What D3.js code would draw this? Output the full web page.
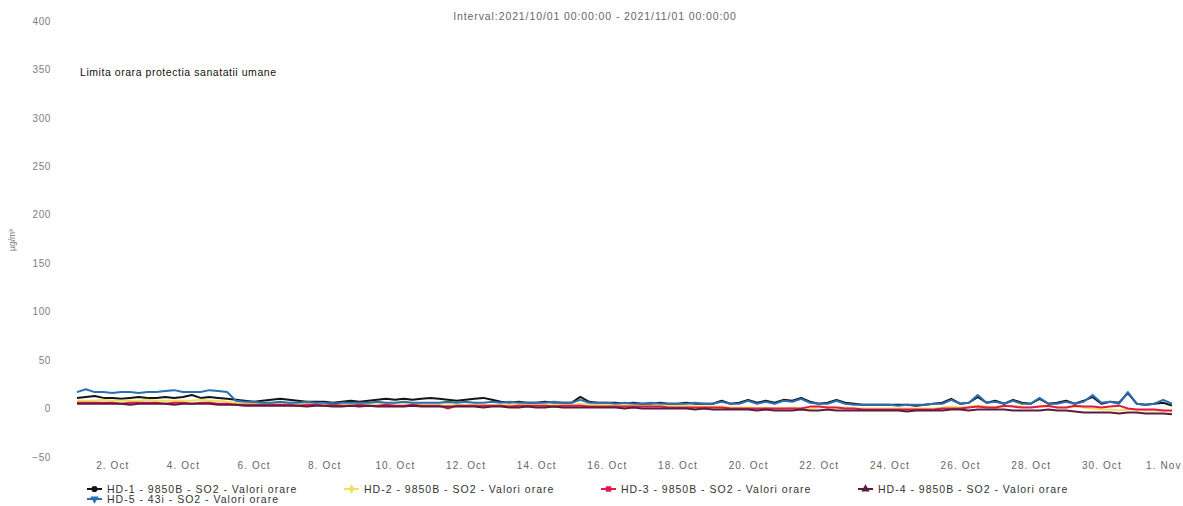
<!DOCTYPE html>
<html>
<head>
<meta charset="utf-8">
<script src="https://cdn.jsdelivr.net/npm/d3@7/dist/d3.min.js"></script>
<style>
    body { margin: 0; background: #fff; }
    #chart-area { width: 1183px; height: 506px; }
    text { font-family: "Liberation Sans", Arial, sans-serif; }
</style>
</head>
<body>
<div id="chart-area"></div>
<script>
// series names + colors
const seriesNames = [
    "HD-1 - 9850B - SO2 - Valori orare",
    "HD-2 - 9850B - SO2 - Valori orare",
    "HD-3 - 9850B - SO2 - Valori orare",
    "HD-4 - 9850B - SO2 - Valori orare",
    "HD-5 - 43i - SO2 - Valori orare"
];
const seriesColors = ["#141414", "#f2e05c", "#e2184c", "#5b1d3c", "#2a6fb3"];

// one value every 6 hours, from 2021-10-01 00:00 to 2021-11-01 00:00
const hd1 = [
    11, 12, 13, 11,  11, 10, 11, 12,  11, 11, 12, 11,  12, 14, 11, 12,  11, 10, 9, 8,
    7, 8, 9, 10,  9, 8, 7, 7,  7, 6, 7, 8,  7, 8, 9, 10,  9, 10, 9, 10,
    11, 10, 9, 8,  9, 10, 11, 9,  7, 6, 7, 6,  6, 7, 6, 6,  6, 12, 7, 6,
    6, 6, 5, 6,  5, 5, 6, 5,  5, 6, 5, 5,  5, 8, 5, 6,  9, 6, 8, 6,
    9, 8, 11, 7,  5, 6, 9, 6,  5, 4, 4, 4,  4, 4, 4, 3,  4, 5, 6, 10,
    5, 6, 12, 6,  8, 5, 9, 6,  5, 10, 5, 6,  8, 5, 8, 12,  5, 7, 6, 16,
    5, 4, 5, 6,  3
];
const hd2 = [
    8, 8, 8, 9,  8, 8, 8, 8,  9, 8, 8, 8,  8, 8, 9, 8,  8, 7, 6, 5,
    5, 5, 6, 5,  5, 4, 5, 5,  5, 5, 4, 5,  5, 5, 6, 5,  5, 6, 5, 5,
    5, 5, 5, 4,  4, 5, 4, 4,  4, 4, 5, 4,  4, 4, 4, 4,  4, 5, 4, 4,
    4, 3, 4, 3,  3, 3, 3, 3,  3, 3, 2, 2,  2, 2, 1, 1,  1, 0, 1, 0,
    0, 1, 0, 0,  1, 2, 1, 1,  0, 0, 0, 0,  0, 0, 0, 0,  0, 0, 1, 2,
    1, 2, 3, 2,  1, 2, 3, 2,  1, 2, 2, 1,  1, 2, 1, 0,  -1, -1, -2, -1,
    -1, -2, -2, -2,  -3
];
const hd3 = [
    6, 6, 6, 6,  6, 5, 6, 6,  6, 6, 5, 6,  6, 5, 6, 6,  5, 5, 4, 4,
    4, 4, 4, 4,  4, 3, 4, 4,  3, 4, 3, 3,  4, 3, 3, 4,  3, 3, 4, 3,
    3, 3, 0, 3,  3, 3, 3, 3,  3, 2, 3, 3,  3, 3, 2, 3,  3, 3, 2, 2,
    2, 2, 2, 2,  2, 2, 2, 1,  1, 1, 1, 1,  1, 1, 0, 0,  0, 0, 0, 0,
    0, 0, 0, 2,  2, 1, 1, 0,  0, -1, -1, -1,  -1, -1, -1, -1,  -1, -1, 0, 0,
    0, 1, 2, 1,  1, 3, 2, 1,  1, 2, 3, 1,  1, 3, 2, 2,  1, 2, 3, 0,
    -1, -1, -1, -2,  -2
];
const hd4 = [
    5, 5, 5, 5,  5, 5, 4, 5,  5, 5, 5, 4,  5, 5, 5, 5,  4, 4, 4, 3,
    3, 3, 3, 3,  3, 3, 2, 3,  3, 2, 2, 3,  2, 3, 2, 2,  2, 2, 3, 2,
    2, 2, 2, 2,  2, 2, 1, 2,  2, 1, 1, 2,  1, 1, 2, 1,  1, 1, 1, 1,
    1, 1, 0, 1,  0, 0, 0, 0,  0, 0, -1, 0,  -1, -1, -1, -1,  -1, -2, -1, -2,
    -2, -2, -1, -2,  -2, -1, -2, -2,  -2, -2, -2, -2,  -2, -2, -3, -2,  -2, -2, -2, -1,
    -1, -2, -1, -1,  -1, -1, -2, -2,  -2, -2, -1, -2,  -2, -3, -4, -4,  -4, -4, -5, -4,
    -4, -5, -5, -5,  -6
];
const hd5 = [
    17, 20, 17, 17,  16, 17, 17, 16,  17, 17, 18, 19,  17, 17, 17, 19,  18, 17, 8, 7,
    7, 6, 6, 7,  6, 6, 7, 6,  6, 5, 6, 6,  6, 6, 7, 6,  6, 7, 6, 6,
    6, 6, 7, 6,  7, 6, 6, 7,  6, 7, 6, 6,  6, 6, 7, 6,  6, 9, 6, 6,
    6, 5, 6, 5,  5, 6, 5, 5,  5, 5, 6, 5,  5, 7, 5, 5,  8, 5, 7, 5,
    8, 7, 10, 6,  5, 5, 8, 5,  4, 4, 4, 4,  4, 3, 4, 4,  4, 5, 5, 9,
    5, 6, 14, 6,  7, 5, 8, 5,  5, 11, 5, 5,  7, 5, 7, 14,  6, 7, 5, 17,
    5, 4, 5, 9,  5
];
const seriesValues = [hd1, hd2, hd3, hd4, hd5];

const startTime = new Date(2021, 9, 1, 0, 0);
const endTime = new Date(2021, 10, 1, 0, 0);
const stepHours = 6;

// axis ticks
const yTicks = [-50, 0, 50, 100, 150, 200, 250, 300, 350, 400];
const xTickDays = [2, 4, 6, 8, 10, 12, 14, 16, 18, 20, 22, 24, 26, 28, 30, 32];

const titleText = "Interval:2021/10/01 00:00:00 - 2021/11/01 00:00:00";
const limitValue = 350;
const limitLabel = "Limita orara protectia sanatatii umane";
const yAxisTitle = "µg/m³";

class LineChart {
    constructor(parentElement) {
        this.parentElement = parentElement;
        this.initVis();
    }

    initVis() {
        let vis = this;

        vis.width = 1183;
        vis.height = 506;
        vis.plot = {left: 77, right: 1172, top: 21, bottom: 457};

        vis.svg = d3.select("#" + vis.parentElement).append("svg")
            .attr("width", vis.width)
            .attr("height", vis.height);

        vis.x = d3.scaleTime()
            .domain([startTime, endTime])
            .range([vis.plot.left, vis.plot.right]);
        vis.y = d3.scaleLinear()
            .domain([-50, 400])
            .range([vis.plot.bottom, vis.plot.top]);

        // build the point lists
        vis.series = seriesValues.map((vals, i) => ({
            name: seriesNames[i],
            color: seriesColors[i],
            points: vals.map((v, j) => ({date: d3.timeHour.offset(startTime, j * stepHours), value: v}))
        }));

        vis.updateVis();
    }

    updateVis() {
        let vis = this;

        // title
        vis.svg.append("text")
            .attr("x", 595).attr("y", 20)
            .attr("text-anchor", "middle")
            .attr("font-size", 10.5)
            .attr("letter-spacing", 0.9)
            .attr("fill", "#666")
            .text(titleText);

        // y axis (labels only)
        let yAxis = d3.axisLeft(vis.y).tickValues(yTicks).tickSize(0).tickPadding(0);
        let yG = vis.svg.append("g")
            .attr("transform", "translate(51,0)")
            .call(yAxis);
        yG.select(".domain").remove();
        yG.selectAll("text")
            .attr("font-family", "'Liberation Sans', Arial, sans-serif")
            .attr("font-size", 10)
            .attr("letter-spacing", 0.6)
            .attr("fill", "#808080");

        vis.svg.append("text")
            .attr("transform", "translate(15,240) rotate(-90)")
            .attr("text-anchor", "middle")
            .attr("font-size", 8.5)
            .attr("fill", "#777")
            .text(yAxisTitle);

        // x axis (labels only)
        let xAxis = d3.axisBottom(vis.x)
            .tickValues(xTickDays.map(d => new Date(2021, 9, d)))
            .tickFormat(d3.timeFormat("%-d. %b"))
            .tickSize(0).tickPadding(0);
        let xG = vis.svg.append("g")
            .attr("transform", "translate(0,462)")
            .call(xAxis);
        xG.select(".domain").remove();
        xG.selectAll("text")
            .attr("font-family", "'Liberation Sans', Arial, sans-serif")
            .attr("font-size", 10)
            .attr("letter-spacing", 1.1)
            .attr("fill", "#666");
        // last label is pushed inside the chart, like the original
        xG.selectAll(".tick:last-of-type text")
            .attr("text-anchor", "end")
            .attr("x", vis.width - 2 - vis.plot.right);

        // plot line label for the hourly limit
        vis.svg.append("text")
            .attr("x", 80)
            .attr("y", vis.y(limitValue) + 7)
            .attr("font-size", 10.5)
            .attr("letter-spacing", 0.55)
            .attr("fill", "#111")
            .text(limitLabel);

        // lines
        let line = d3.line()
            .x(d => vis.x(d.date))
            .y(d => vis.y(d.value));

        vis.svg.append("g").selectAll("path")
            .data(vis.series)
            .enter()
            .append("path")
            .attr("d", d => line(d.points))
            .attr("fill", "none")
            .attr("stroke", d => d.color)
            .attr("stroke-width", 2)
            .attr("stroke-linejoin", "round");

        // legend
        let symbols = [d3.symbolCircle, d3.symbolDiamond, d3.symbolSquare, d3.symbolTriangle, d3.symbolTriangle];
        let legend = vis.svg.append("g").attr("class", "legend");
        let items = legend.selectAll("g")
            .data(vis.series)
            .enter()
            .append("g")
            .attr("transform", (d, i) => `translate(${87 + (i % 4) * 257}, ${489 + Math.floor(i / 4) * 10})`);

        items.append("line")
            .attr("x1", 0).attr("x2", 15)
            .attr("stroke", d => d.color)
            .attr("stroke-width", 2);
        items.append("path")
            .attr("d", (d, i) => d3.symbol().type(symbols[i]).size(30)())
            .attr("transform", (d, i) => `translate(7.5,0)` + (i === 4 ? " rotate(180)" : ""))
            .attr("fill", d => d.color);
        items.append("text")
            .attr("x", 20).attr("y", 4)
            .attr("font-size", 10.5)
            .attr("letter-spacing", 1)
            .attr("fill", "#333")
            .text(d => d.name);
    }
}

new LineChart("chart-area");
</script>
</body>
</html>
